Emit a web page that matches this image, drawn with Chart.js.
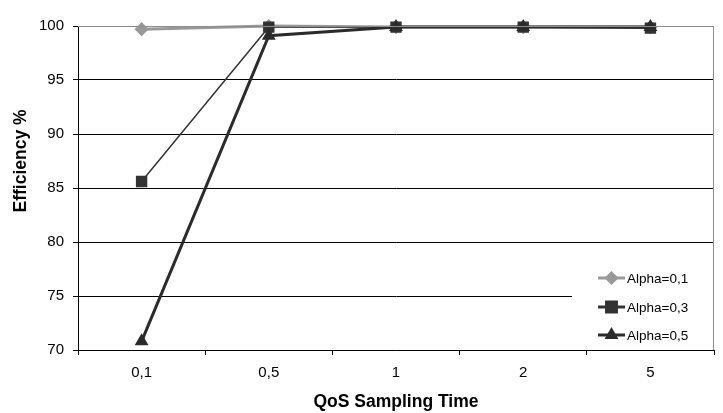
<!DOCTYPE html>
<html>
<head>
<meta charset="utf-8">
<script src="https://cdn.jsdelivr.net/npm/chart.js@4/dist/chart.umd.min.js"></script>
<style>
    html, body { margin: 0; padding: 0; background: #fff; }
    canvas { display: block; }
</style>
</head>
<body>
<canvas id="effChart" width="723" height="413"></canvas>
<script>
'use strict';

// Tiempos de muestreo QoS (eje X)
const samplingTimes = ['0,1', '0,5', '1', '2', '5'];

// Eficiencia (%) para cada valor de alpha
const alpha01 = [99.7, 100, 99.9, 99.9, 99.9];
const alpha03 = [85.6, 99.9, 99.9, 99.9, 99.8];
const alpha05 = [70.8, 99.1, 99.9, 99.9, 99.9];

const seriesNames = ['Alpha=0,1', 'Alpha=0,3', 'Alpha=0,5'];

const yMin = 70;
const yMax = 100;
const yStep = 5;

const FONT = "'Liberation Sans', Arial, sans-serif";

// Borde superior/derecho gris del área de trazado
const plotFrame = {
    id: 'plotFrame',
    afterDatasetsDraw(chart) {
        const { ctx, chartArea: a } = chart;
        ctx.save();
        ctx.strokeStyle = '#8c8c8c';
        ctx.lineWidth = 1;
        ctx.beginPath();
        ctx.moveTo(a.left, a.top + 0.5);
        ctx.lineTo(a.right - 0.5, a.top + 0.5);
        ctx.lineTo(a.right - 0.5, a.bottom);
        ctx.stroke();
        ctx.restore();
    }
};

// Título vertical del eje Y
const yTitle = {
    id: 'yTitle',
    afterDraw(chart) {
        const { ctx } = chart;
        ctx.save();
        ctx.translate(21, 161);
        ctx.rotate(-Math.PI / 2);
        ctx.font = 'bold 17.5px ' + FONT;
        ctx.fillStyle = '#000';
        ctx.textAlign = 'center';
        ctx.textBaseline = 'middle';
        ctx.fillText('Efficiency %', 0, 0);
        ctx.restore();
    }
};

// Leyenda dentro del área de trazado, abajo a la derecha
const insideLegend = {
    id: 'insideLegend',
    afterDraw(chart) {
        const { ctx, chartArea: a } = chart;
        const boxW = 141, boxH = 86;
        const bx = a.right - boxW - 1;
        const by = a.bottom - boxH;
        ctx.save();
        ctx.fillStyle = '#fff';
        ctx.fillRect(bx, by, boxW, boxH);

        const rows = [14, 43, 71];
        chart.data.datasets.forEach((ds, i) => {
            const y = by + rows[i];
            const x0 = bx + 26;
            ctx.strokeStyle = ds.borderColor;
            ctx.lineWidth = 3;
            ctx.beginPath();
            ctx.moveTo(x0, y);
            ctx.lineTo(x0 + 27, y);
            ctx.stroke();
            Chart.helpers.drawPoint(ctx, {
                pointStyle: ds.pointStyle,
                radius: ds.pointRadius,
                borderWidth: 1,
                rotation: 0
            }, x0 + 13.5, y);
            ctx.fillStyle = ds.pointBackgroundColor;
            ctx.strokeStyle = ds.pointBorderColor;
            ctx.lineWidth = 1;
            ctx.fill();
            ctx.stroke();

            ctx.fillStyle = '#000';
            ctx.font = '13.5px ' + FONT;
            ctx.textAlign = 'left';
            ctx.textBaseline = 'middle';
            ctx.fillText(ds.label, x0 + 29, y + 1);
        });
        ctx.restore();
    }
};

new Chart(document.getElementById('effChart'), {
    type: 'line',
    data: {
        labels: samplingTimes,
        datasets: [
            {
                label: seriesNames[0],
                data: alpha01,
                borderColor: '#999999',
                backgroundColor: '#999999',
                pointBackgroundColor: '#999999',
                pointBorderColor: '#999999',
                borderWidth: 3,
                pointStyle: 'rectRot',
                pointRadius: 5,
                order: 3
            },
            {
                label: seriesNames[1],
                data: alpha03,
                borderColor: '#333333',
                backgroundColor: '#333333',
                pointBackgroundColor: '#333333',
                pointBorderColor: '#333333',
                borderWidth: 1.5,
                pointStyle: 'rect',
                pointRadius: 7,
                order: 2
            },
            {
                label: seriesNames[2],
                data: alpha05,
                borderColor: '#2b2b2b',
                backgroundColor: '#2b2b2b',
                pointBackgroundColor: '#2b2b2b',
                pointBorderColor: '#2b2b2b',
                borderWidth: 3,
                pointStyle: 'triangle',
                pointRadius: 5,
                order: 1
            }
        ]
    },
    options: {
        responsive: false,
        animation: false,
        clip: false,
        layout: { padding: { top: 26, right: 6, left: 0, bottom: 0 } },
        elements: {
            line: { tension: 0 },
            point: { borderWidth: 1, hoverRadius: 6 }
        },
        scales: {
            x: {
                offset: true,
                grid: {
                    offset: true,
                    drawOnChartArea: false,
                    tickLength: 5,
                    color: '#000'
                },
                border: { color: '#000', width: 1 },
                ticks: {
                    color: '#000',
                    padding: 9,
                    font: { size: 15, family: FONT }
                },
                title: {
                    display: true,
                    text: 'QoS Sampling Time',
                    color: '#000',
                    padding: { top: 0, bottom: 0 },
                    font: { size: 17.5, weight: 'bold', family: FONT }
                },
                afterFit(scale) { scale.height = 63; }
            },
            y: {
                min: yMin,
                max: yMax,
                ticks: {
                    stepSize: yStep,
                    color: '#000',
                    padding: 9,
                    font: { size: 15, family: FONT }
                },
                grid: {
                    tickLength: 5,
                    lineWidth: 1,
                    color: ctx => (ctx.tick && ctx.tick.value === yMax ? '#8c8c8c' : '#000'),
                    tickColor: '#000'
                },
                border: { color: '#000', width: 1 },
                afterFit(scale) { scale.width = 78; }
            }
        },
        plugins: {
            legend: { display: false },
            tooltip: { enabled: false }
        }
    },
    plugins: [plotFrame, yTitle, insideLegend]
});
</script>
</body>
</html>
